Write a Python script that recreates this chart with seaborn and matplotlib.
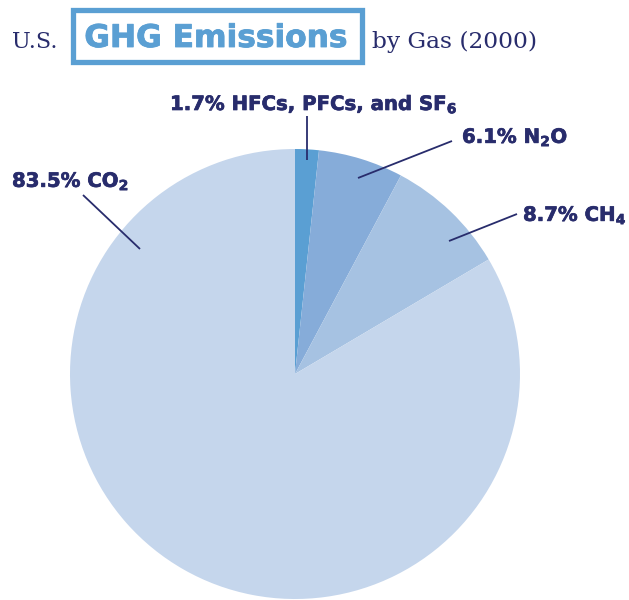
import matplotlib
matplotlib.use("Agg")
import matplotlib.pyplot as plt
import matplotlib.patheffects as pe
import seaborn as sns
from matplotlib.patches import Rectangle

# ------------------------------
# DATA
# ------------------------------

gases = [r"HFCs, PFCs, and SF$_\mathbf{6}$", r"N$_\mathbf{2}$O",
         r"CH$_\mathbf{4}$", r"CO$_\mathbf{2}$"]
shares = [1.7, 6.1, 8.7, 83.5]
slice_colors = ["#5a9fd3", "#86acd9", "#a6c2e2", "#c5d6ec"]

NAVY = "#282c6c"
BLUE = "#5a9fd3"

sns.set_theme(style="white")
plt.rcParams["font.family"] = ["DejaVu Sans"]
plt.rcParams["mathtext.fontset"] = "dejavusans"

W, H = 629, 600
fig = plt.figure(figsize=(W / 100, H / 100), dpi=100)
ax = fig.add_axes([0, 0, 1, 1])


def py(y):
    # pixel row (top-down) -> data y
    return H - y


# ------------------------------
# PIE
# ------------------------------

ax.pie(shares, colors=slice_colors, startangle=90, counterclock=False,
       center=(295, py(374)), radius=225,
       wedgeprops=dict(linewidth=0))
ax.set_xlim(0, W)
ax.set_ylim(0, H)
ax.set_aspect("equal")
ax.axis("off")

# ------------------------------
# LABELS + LEADER LINES
# ------------------------------

heavy = [pe.withStroke(linewidth=0.5, foreground=NAVY)]
lab_kw = dict(color=NAVY, fontsize=14.2, fontweight="bold", va="baseline",
              ha="left", path_effects=heavy)
ax.text(170, py(110), "1.7% " + gases[0], **lab_kw)
ax.text(462, py(143), "6.1% " + gases[1], **lab_kw)
ax.text(523, py(221), "8.7% " + gases[2], **lab_kw)
ax.text(12, py(187), "83.5% " + gases[3], **lab_kw)

leaders = [((307, 116), (307, 160)),
           ((452, 141), (358, 178)),
           ((517, 214), (449, 241)),
           ((83, 195), (140, 249))]
for (x0, y0), (x1, y1) in leaders:
    ax.plot([x0, x1], [py(y0), py(y1)], color=NAVY, lw=1.3,
            solid_capstyle="butt")

# ------------------------------
# TITLE
# ------------------------------

ax.text(12, py(48), "U.S.", color=NAVY, fontsize=16,
        family="DejaVu Serif", ha="left", va="baseline")
ax.add_patch(Rectangle((72.5, py(61.5)), 289, 52, fill=False,
                       edgecolor=BLUE, lw=3.8))
ax.text(216, py(47), "GHG Emissions", color=BLUE, fontsize=22.5,
        fontweight="bold", ha="center", va="baseline",
        path_effects=[pe.withStroke(linewidth=0.6, foreground=BLUE)])
ax.text(372, py(48), "by Gas (2000)", color=NAVY, fontsize=16.8,
        family="DejaVu Serif", ha="left", va="baseline")

fig.savefig("out.png", dpi=100)
